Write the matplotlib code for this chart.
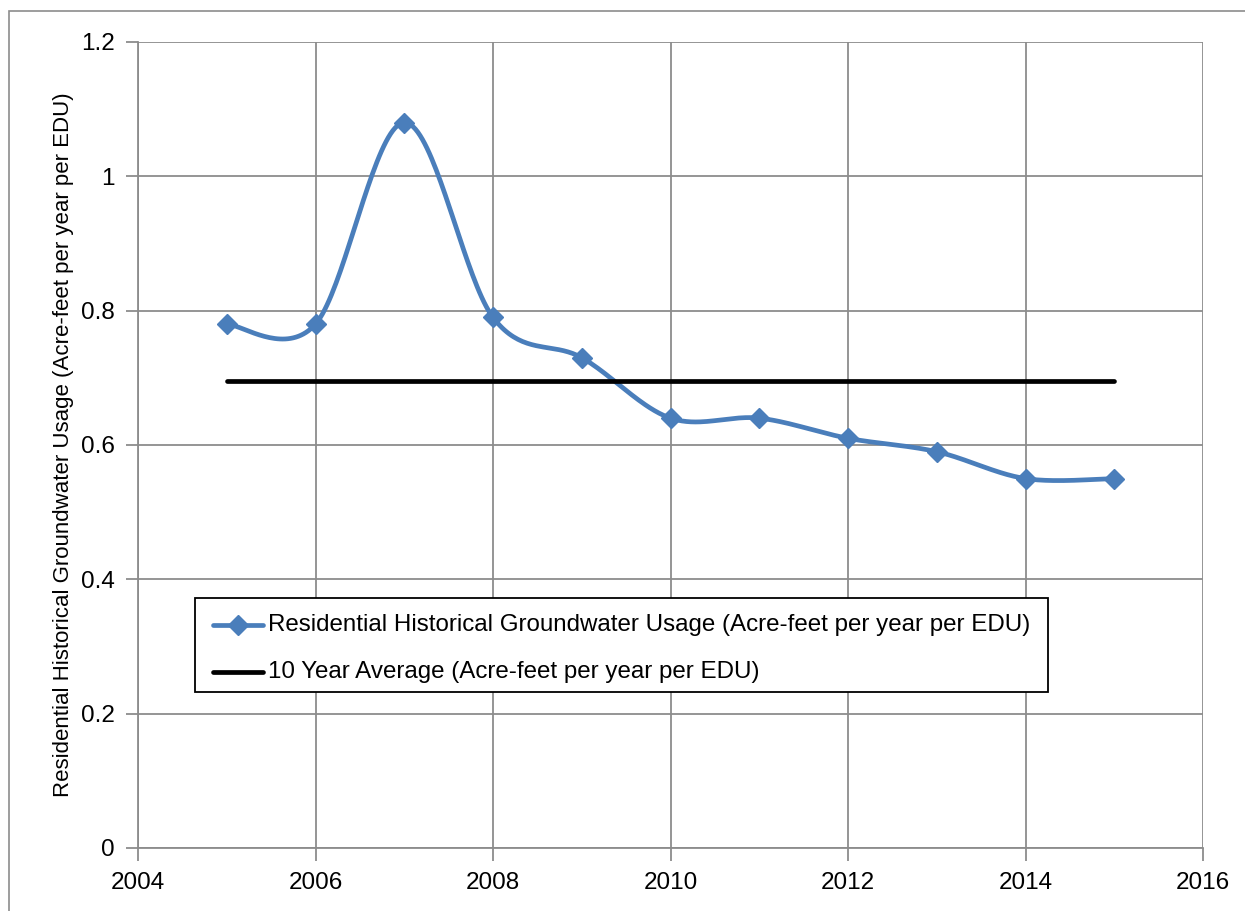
import matplotlib

matplotlib.use("Agg")
import matplotlib.pyplot as plt
import numpy as np
from matplotlib.patches import Rectangle

years = [2005, 2006, 2007, 2008, 2009, 2010, 2011, 2012, 2013, 2014, 2015]
usage = [0.78, 0.78, 1.08, 0.79, 0.73, 0.64, 0.64, 0.61, 0.59, 0.55, 0.55]
# ten year average over 2006-2015
avg_value = float(np.mean(usage[1:]))

usage_label = "Residential Historical Groundwater Usage (Acre-feet per year per EDU)"
avg_label = "10 Year Average (Acre-feet per year per EDU)"

plt.rcParams["font.family"] = ["Liberation Sans Narrow", "Liberation Sans", "DejaVu Sans"]

BLUE = "#4A7EBB"
GRID = "#8C8C8C"


def smooth(xs, ys, n=40):
    """Spreadsheet-style smoothed line: cubic Bezier through each point."""
    xs = np.asarray(xs, float)
    ys = np.asarray(ys, float)
    px, py = [], []
    for i in range(len(xs) - 1):
        i0 = max(i - 1, 0)
        i3 = min(i + 2, len(xs) - 1)
        c1x = xs[i] + (xs[i + 1] - xs[i0]) / 6
        c1y = ys[i] + (ys[i + 1] - ys[i0]) / 6
        c2x = xs[i + 1] - (xs[i3] - xs[i]) / 6
        c2y = ys[i + 1] - (ys[i3] - ys[i]) / 6
        t = np.linspace(0, 1, n)
        a, b, c, d = (1 - t) ** 3, 3 * t * (1 - t) ** 2, 3 * t ** 2 * (1 - t), t ** 3
        px.extend(a * xs[i] + b * c1x + c * c2x + d * xs[i + 1])
        py.extend(a * ys[i] + b * c1y + c * c2y + d * ys[i + 1])
    return np.array(px), np.array(py)


fig = plt.figure(figsize=(12.45, 9.11), dpi=100)
fig.patches.append(Rectangle((9 / 1245, -0.01), 1.05, (911 - 11) / 911 + 0.01,
                             transform=fig.transFigure, fill=False,
                             edgecolor="#8C8C8C", linewidth=1.2))
ax = fig.add_axes([138 / 1245, 63 / 911, 1065 / 1245, 806 / 911])

sx, sy = smooth(years, usage)
ax.plot(sx, sy, color=BLUE, linewidth=3.4, solid_capstyle="round", zorder=3)
ax.plot(years, usage, linestyle="none", marker="D", markersize=10.5,
        color=BLUE, zorder=4)
ax.plot([years[0], years[-1]], [avg_value, avg_value], color="black",
        linewidth=3.4, solid_capstyle="round", zorder=3)

ax.set_xlim(2004, 2016)
ax.set_ylim(0, 1.2)
ax.set_xticks(np.arange(2004, 2017, 2))
ax.set_yticks([0, 0.2, 0.4, 0.6, 0.8, 1, 1.2])
ax.set_yticklabels(["0", "0.2", "0.4", "0.6", "0.8", "1", "1.2"])
ax.grid(True, color=GRID, linewidth=1.3)
ax.set_axisbelow(True)
for side in ("top", "right"):
    ax.spines[side].set_visible(False)
for side in ("left", "bottom"):
    ax.spines[side].set_color(GRID)
    ax.spines[side].set_linewidth(1.3)
ax.tick_params(axis="both", colors=GRID, length=9, width=1.3,
               labelcolor="black", labelsize=17.5)
ax.tick_params(axis="x", pad=8)
ax.tick_params(axis="y", pad=8)
ax.set_ylabel(usage_label, fontsize=16, labelpad=5)

# boxed key for the two series
lx0, lx1 = (195 - 138) / 1065, (1048 - 138) / 1065
ly0, ly1 = (848 - 692) / 806, (848 - 598) / 806
ax.add_patch(Rectangle((lx0, ly0), lx1 - lx0, ly1 - ly0, transform=ax.transAxes,
                       facecolor="white", edgecolor="black", linewidth=1.3, zorder=5))
for k, (label, color, mk) in enumerate([(usage_label, BLUE, "D"), (avg_label, "black", None)]):
    yy = (848 - (625 + k * 47)) / 806
    xa, xb = (213 - 138) / 1065, (263 - 138) / 1065
    ax.plot([xa, xb], [yy, yy], color=color, linewidth=3.4, transform=ax.transAxes,
            zorder=6, solid_capstyle="round")
    if mk:
        ax.plot([(xa + xb) / 2], [yy], marker=mk, markersize=10.5, color=color,
                transform=ax.transAxes, zorder=7)
    ax.text((268 - 138) / 1065, yy, label, transform=ax.transAxes, fontsize=17.4,
            va="center", ha="left", zorder=7)

fig.savefig("out.png", dpi=100)
